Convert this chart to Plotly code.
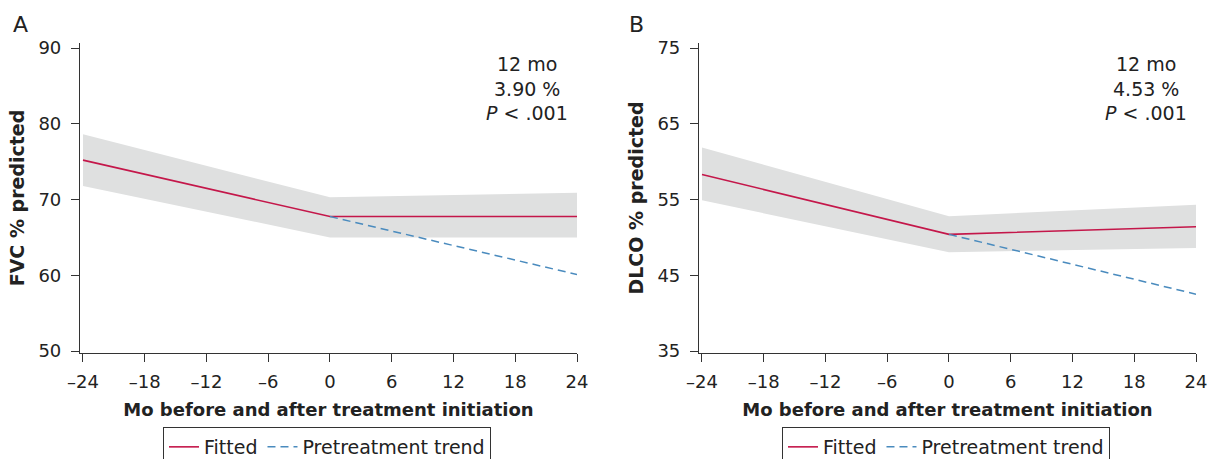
import plotly.graph_objects as go

# ---------------- data ----------------
months = [-24, 0, 24]
trend_months = [0, 24]
tick_vals_x = [-24, -18, -12, -6, 0, 6, 12, 18, 24]
tick_text_x = ["–24", "–18", "–12", "–6", "0", "6", "12", "18", "24"]

# Panel A: FVC % predicted
fvc_fitted = [75.2, 67.75, 67.75]
fvc_upper = [78.6, 70.3, 70.9]
fvc_lower = [71.8, 65.0, 65.0]
fvc_trend = [67.75, 60.1]
fvc_ticks = [50, 60, 70, 80, 90]
fvc_text = ["12 mo", "3.90 %", "<i>P</i> < .001"]

# Panel B: DLCO % predicted
dlco_fitted = [58.3, 50.4, 51.4]
dlco_upper = [61.85, 52.8, 54.3]
dlco_lower = [54.9, 48.05, 48.6]
dlco_trend = [50.4, 42.5]
dlco_ticks = [35, 45, 55, 65, 75]
dlco_text = ["12 mo", "4.53 %", "<i>P</i> < .001"]

# ---------------- style ----------------
FONT = "DejaVu Sans"
RED = "#C4174A"
BLUE = "#4A8BBE"
BAND = "#DFE0E0"
AX = "#333333"
TXT = "#222222"

# body margin is removed in the page (post_script), so figure sits at (0, 0)
W, H = 1208, 459


def px(x):
    return x / W


def py(y):
    return 1 - y / H


fig = go.Figure()

panels = [
    dict(x="x", y="y", leg="legend", fitted=fvc_fitted, upper=fvc_upper, lower=fvc_lower,
         trend=fvc_trend),
    dict(x="x2", y="y2", leg="legend2", fitted=dlco_fitted, upper=dlco_upper, lower=dlco_lower,
         trend=dlco_trend),
]

for p in panels:
    band_x = months + months[::-1]
    band_y = p["upper"] + p["lower"][::-1]
    fig.add_trace(go.Scatter(x=band_x, y=band_y, fill="toself", fillcolor=BAND,
                             line=dict(width=0, color=BAND), mode="lines",
                             showlegend=False, hoverinfo="skip",
                             xaxis=p["x"], yaxis=p["y"]))
    fig.add_trace(go.Scatter(x=months, y=p["fitted"], mode="lines", name="Fitted",
                             line=dict(color=RED, width=1.6),
                             xaxis=p["x"], yaxis=p["y"], legend=p["leg"]))
    fig.add_trace(go.Scatter(x=trend_months, y=p["trend"], mode="lines",
                             name="Pretreatment trend",
                             line=dict(color=BLUE, width=1.5, dash="8px,5px"),
                             xaxis=p["x"], yaxis=p["y"], legend=p["leg"]))

xdom_a = [px(80), px(577)]
xdom_b = [px(699), px(1196)]
ydom = [py(353), py(43)]


def xaxis_cfg(domain, anchor):
    return dict(domain=domain, anchor=anchor, range=[-24.29, 24],
                tickvals=tick_vals_x, ticktext=tick_text_x,
                showline=True, linecolor=AX, linewidth=1.2,
                ticks="outside", ticklen=8, tickcolor=AX, tickwidth=1,
                showgrid=False, zeroline=False, ticklabelstandoff=4,
                ticklabeloverflow="allow",
                tickfont=dict(family=FONT, size=18, color=TXT),
                title=dict(text="<b>Mo before and after treatment initiation</b>",
                           font=dict(family=FONT, size=18, color=TXT), standoff=12))


def yaxis_cfg(domain, anchor, rng, ticks, title):
    return dict(domain=domain, anchor=anchor, range=rng, tickvals=ticks,
                showline=True, linecolor=AX, linewidth=1.2,
                ticks="outside", ticklen=8, tickcolor=AX, tickwidth=1,
                showgrid=False, zeroline=False, ticklabelstandoff=6,
                tickfont=dict(family=FONT, size=18, color=TXT),
                title=dict(text="<b>" + title + "</b>",
                           font=dict(family=FONT, size=19, color=TXT), standoff=8))


legend_common = dict(orientation="h", xanchor="left", yanchor="top",
                     bordercolor=AX, borderwidth=1, bgcolor="white",
                     font=dict(family=FONT, size=19, color=TXT),
                     tracegroupgap=0, itemwidth=30)

fig.update_layout(
    width=W, height=H,
    paper_bgcolor="white", plot_bgcolor="white",
    margin=dict(l=0, r=0, t=0, b=0, autoexpand=False),
    font=dict(family=FONT, color=TXT),
    xaxis=xaxis_cfg(xdom_a, "y"),
    yaxis=yaxis_cfg(ydom, "x", [49.74, 90.66], fvc_ticks, "FVC % predicted"),
    xaxis2=xaxis_cfg(xdom_b, "y2"),
    yaxis2=yaxis_cfg(ydom, "x2", [34.74, 75.66], dlco_ticks, "DLCO % predicted"),
    legend=dict(x=px(163), y=py(427), **legend_common),
    legend2=dict(x=px(782), y=py(427), **legend_common),
)

# stats annotations
line_y = [64, 89, 113]
for cx, texts in [(527, fvc_text), (1146, dlco_text)]:
    for t, ly in zip(texts, line_y):
        fig.add_annotation(x=px(cx), y=py(ly), xref="paper", yref="paper",
                           text=t, showarrow=False, xanchor="center", yanchor="middle",
                           font=dict(family=FONT, size=19, color=TXT))

# panel letters
for lx, letter in [(20, "A"), (636, "B")]:
    fig.add_annotation(x=px(lx), y=py(24), xref="paper", yref="paper",
                       text=letter, showarrow=False, xanchor="center", yanchor="middle",
                       font=dict(family=FONT, size=22, color=TXT))

fig.write_html(
    "out.html",
    config={"displayModeBar": False},
    post_script="document.body.style.margin='0';document.body.style.overflow='hidden';",
)
